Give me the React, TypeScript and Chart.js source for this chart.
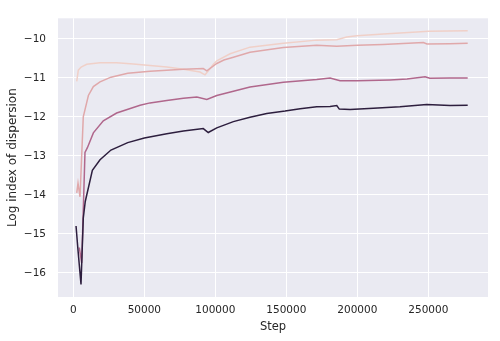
import React, { useEffect, useRef } from "react";
import { Chart, registerables } from "chart.js";

Chart.register(...registerables);

// Steps and values for each run (darkest to lightest)
const darkSteps = [1900, 3100, 5400, 7000, 8400, 13400, 18800, 26500, 38300, 50000, 65800, 77500, 91500, 95000, 101000, 112700, 124400, 136200, 149100, 159700, 171400, 180800, 185500, 187300, 194900, 211300, 230000, 248900, 265300, 277700];
const darkValues = [-14.8, -15.34, -16.3, -14.6, -14.17, -13.37, -13.1, -12.85, -12.66, -12.54, -12.43, -12.36, -12.3, -12.4, -12.28, -12.12, -12.01, -11.91, -11.85, -11.79, -11.74, -11.73, -11.71, -11.8, -11.81, -11.78, -11.74, -11.68, -11.71, -11.7];

const mauveSteps = [4200, 5900, 8200, 9900, 14100, 21100, 30500, 47000, 54000, 65800, 77500, 87000, 94000, 101000, 112700, 124400, 147900, 171400, 180800, 187800, 200000, 223000, 235000, 247700, 251000, 265000, 277700];
const mauveValues = [-15.35, -15.75, -12.91, -12.79, -12.41, -12.1, -11.9, -11.7, -11.64, -11.58, -11.52, -11.49, -11.55, -11.45, -11.34, -11.23, -11.11, -11.04, -11.0, -11.07, -11.07, -11.05, -11.03, -10.97, -11.01, -11.0, -11.0];

const pinkSteps = [2400, 3300, 4700, 7000, 10600, 14100, 18800, 26500, 38300, 54000, 65800, 77500, 91500, 94000, 101000, 106000, 112700, 124400, 147900, 171400, 185500, 200000, 218000, 246500, 249000, 265000, 277700];
const pinkValues = [-13.95, -13.7, -14.05, -12.0, -11.45, -11.22, -11.1, -10.98, -10.88, -10.83, -10.8, -10.78, -10.76, -10.82, -10.63, -10.54, -10.47, -10.34, -10.22, -10.16, -10.19, -10.16, -10.14, -10.09, -10.13, -10.12, -10.11];

const lightSteps = [2400, 3500, 5500, 9400, 18800, 30500, 42300, 54000, 65800, 77500, 89200, 92700, 95000, 98600, 101000, 110400, 124400, 147900, 171400, 185500, 192500, 199600, 218300, 241800, 250000, 277700];
const lightValues = [-11.09, -10.8, -10.72, -10.65, -10.61, -10.61, -10.64, -10.68, -10.72, -10.78, -10.85, -10.92, -10.82, -10.65, -10.56, -10.38, -10.21, -10.11, -10.03, -10.02, -9.95, -9.92, -9.87, -9.82, -9.8, -9.79];

const xTicks = [0, 50000, 100000, 150000, 200000, 250000];
const yTicks = [-16, -15, -14, -13, -12, -11, -10];

const toPoints = (steps: number[], values: number[]) =>
  steps.map((s, i) => ({ x: s, y: values[i] }));

const bgPlugin = {
  id: "plotBg",
  beforeDraw(chart: any) {
    const { ctx, chartArea } = chart;
    ctx.save();
    ctx.fillStyle = "#EAEAF2";
    ctx.fillRect(chartArea.left, chartArea.top, chartArea.right - chartArea.left, chartArea.bottom - chartArea.top);
    ctx.restore();
  },
};

export default function App() {
  const ref = useRef<HTMLCanvasElement | null>(null);

  useEffect(() => {
    document.body.style.margin = "0";
    const canvas = ref.current;
    if (!canvas) return;
    const fontFamily = "'DejaVu Sans', sans-serif";
    const line = (data: any, color: string) => ({
      data,
      borderColor: color,
      backgroundColor: color,
      borderWidth: 1.5,
      pointRadius: 0,
      tension: 0,
      fill: false,
    });
    const chart = new Chart(canvas, {
      type: "line",
      data: {
        datasets: [
          line(toPoints(darkSteps, darkValues), "#2d1e3e"),
          line(toPoints(mauveSteps, mauveValues), "#b0678c"),
          line(toPoints(pinkSteps, pinkValues), "#e0a8aa"),
          line(toPoints(lightSteps, lightValues), "#f0d0c8"),
        ],
      },
      plugins: [bgPlugin],
      options: {
        animation: false,
        responsive: false,
        maintainAspectRatio: false,
        devicePixelRatio: 1,
        layout: { padding: { top: 13, right: 12, left: 0, bottom: 0 } },
        plugins: { legend: { display: false }, tooltip: { enabled: false } },
        scales: {
          x: {
            type: "linear",
            min: -10800,
            max: 292000,
            afterFit: (s: any) => { s.height = 44; },
            afterBuildTicks: (s: any) => { s.ticks = xTicks.map((v) => ({ value: v })); },
            grid: { color: "#ffffff", lineWidth: 1, drawTicks: false },
            border: { display: false },
            ticks: {
              padding: 7,
              color: "#262626",
              font: { family: fontFamily, size: 10.5 },
              maxRotation: 0,
              callback: (v: any) => String(v),
            },
            title: {
              display: true,
              text: "Step",
              color: "#262626",
              font: { family: fontFamily, size: 11.5 },
              padding: { top: 0, bottom: 7 },
            },
          },
          y: {
            type: "linear",
            min: -16.62,
            max: -9.47,
            afterFit: (s: any) => { s.width = 58; },
            afterBuildTicks: (s: any) => { s.ticks = yTicks.map((v) => ({ value: v })); },
            grid: { color: "#ffffff", lineWidth: 1, drawTicks: false },
            border: { display: false },
            ticks: {
              padding: 12,
              color: "#262626",
              font: { family: fontFamily, size: 10.5 },
              callback: (v: any) => (v < 0 ? "\u2212" + String(Math.abs(v)) : String(v)),
            },
            title: {
              display: true,
              text: "Log index of dispersion",
              color: "#262626",
              font: { family: fontFamily, size: 12 },
              padding: { top: 6, bottom: 0 },
            },
          },
        },
      },
    });
    return () => chart.destroy();
  }, []);

  return (
    <div style={{ width: 500, height: 341 }}>
      <canvas ref={ref} width={500} height={341} style={{ width: 500, height: 341, display: "block" }} />
    </div>
  );
}
